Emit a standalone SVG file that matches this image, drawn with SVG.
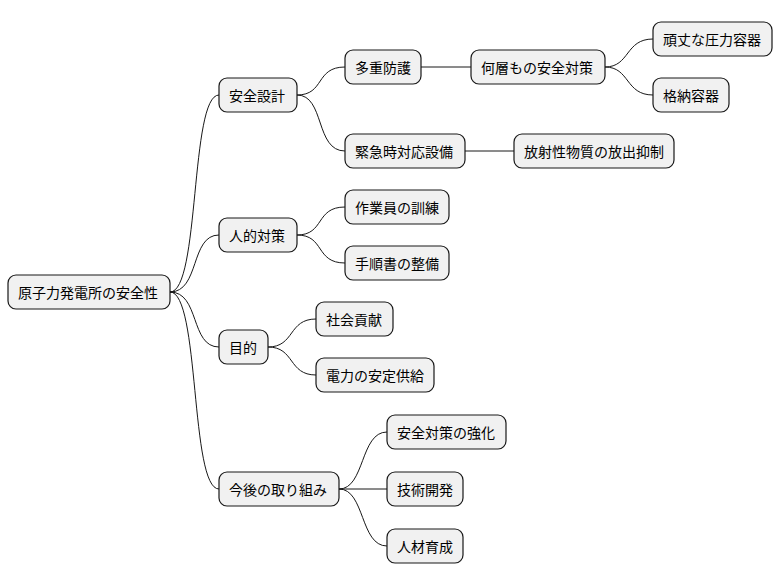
<svg xmlns="http://www.w3.org/2000/svg" width="782" height="583" viewBox="0 0 782 583">
<style>
rect{fill:#F1F1F1;stroke:#181818;stroke-width:1.2}
text{font-family:"Noto Sans CJK JP","Noto Sans CJK SC",sans-serif;font-size:14px;fill:#000;dominant-baseline:central}
.c path{fill:none;stroke:#181818;stroke-width:1}
</style>
<rect width="782" height="583" style="fill:#fff;stroke:none"/>
<g class="c">
<path d="M170,292 C200,292 190,95 219,95"/>
<path d="M170,292 C200,292 190,235 219,235"/>
<path d="M170,292 C200,292 190,347 219,347"/>
<path d="M170,292 C200,292 190,489 219,489"/>
<path d="M297,95 C325,95 315,67 345,67"/>
<path d="M297,95 C325,95 315,151 345,151"/>
<path d="M421,67 L471,67"/>
<path d="M605,67 C630,67 625,39 653,39"/>
<path d="M605,67 C630,67 625,95 653,95"/>
<path d="M465,151 L514,151"/>
<path d="M297,235 C325,235 315,207 345,207"/>
<path d="M297,235 C325,235 315,263 345,263"/>
<path d="M268,347 C295,347 288,319 316,319"/>
<path d="M268,347 C295,347 288,375 316,375"/>
<path d="M339,489 C365,489 360,432 387,432"/>
<path d="M339,489 L387,489"/>
<path d="M339,489 C365,489 360,546 387,546"/>
</g>
<g id="root"><rect x="8" y="275" width="162" height="34" rx="8"/><text x="18" y="292">原子力発電所の安全性</text></g>
<g id="n1"><rect x="219" y="78" width="78" height="34" rx="8"/><text x="229" y="95">安全設計</text></g>
<g id="n11"><rect x="345" y="50" width="76" height="34" rx="8"/><text x="355" y="67">多重防護</text></g>
<g id="n111"><rect x="471" y="50" width="134" height="34" rx="8"/><text x="481" y="67">何層もの安全対策</text></g>
<g id="n1111"><rect x="653" y="22" width="119" height="34" rx="8"/><text x="663" y="39">頑丈な圧力容器</text></g>
<g id="n1112"><rect x="653" y="78" width="76" height="34" rx="8"/><text x="663" y="95">格納容器</text></g>
<g id="n12"><rect x="345" y="134" width="120" height="34" rx="8"/><text x="355" y="151">緊急時対応設備</text></g>
<g id="n121"><rect x="514" y="134" width="160" height="34" rx="8"/><text x="524" y="151">放射性物質の放出抑制</text></g>
<g id="n2"><rect x="219" y="218" width="78" height="34" rx="8"/><text x="229" y="235">人的対策</text></g>
<g id="n21"><rect x="345" y="190" width="104" height="34" rx="8"/><text x="355" y="207">作業員の訓練</text></g>
<g id="n22"><rect x="345" y="246" width="104" height="34" rx="8"/><text x="355" y="263">手順書の整備</text></g>
<g id="n3"><rect x="219" y="330" width="49" height="34" rx="8"/><text x="229" y="347">目的</text></g>
<g id="n31"><rect x="316" y="302" width="77" height="34" rx="8"/><text x="326" y="319">社会貢献</text></g>
<g id="n32"><rect x="316" y="358" width="118" height="34" rx="8"/><text x="326" y="375">電力の安定供給</text></g>
<g id="n4"><rect x="219" y="472" width="120" height="34" rx="8"/><text x="229" y="489">今後の取り組み</text></g>
<g id="n41"><rect x="387" y="415" width="119" height="34" rx="8"/><text x="397" y="432">安全対策の強化</text></g>
<g id="n42"><rect x="387" y="472" width="76" height="34" rx="8"/><text x="397" y="489">技術開発</text></g>
<g id="n43"><rect x="387" y="529" width="76" height="34" rx="8"/><text x="397" y="546">人材育成</text></g>
</svg>
